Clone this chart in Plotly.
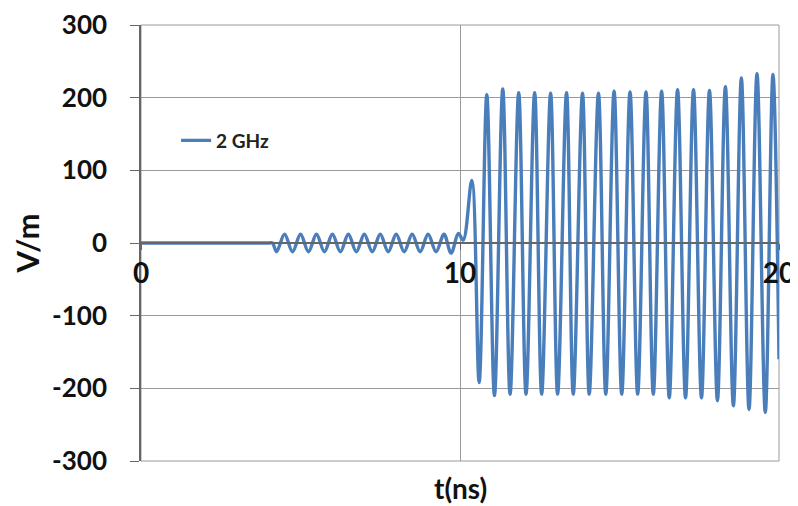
import plotly.graph_objects as go

# Extremum points of the 2 GHz field trace (t in ns, field in V/m)
t_ns = [0.0, 4.0, 4.12, 4.25, 4.5, 4.75, 5.0, 5.25, 5.5, 5.75, 6.0, 6.25, 6.5, 6.75, 7.0,
        7.25, 7.5, 7.75, 8.0, 8.25, 8.5, 8.75, 9.0, 9.25, 9.5, 9.72, 9.95, 10.1, 10.37,
        10.6, 10.84, 11.08, 11.34, 11.57, 11.84, 12.07, 12.34, 12.56, 12.84, 13.06, 13.34,
        13.55, 13.84, 14.05, 14.34, 14.57, 14.83, 15.07, 15.33, 15.57, 15.83, 16.06, 16.32,
        16.56, 16.82, 17.07, 17.32, 17.57, 17.82, 18.07, 18.32, 18.57, 18.82, 19.06, 19.31,
        19.57, 19.81, 20.0]
field = [0, 0, 0, -12, 12, -12, 12, -12, 12, -12, 12, -12, 12, -12, 12,
         -12, 12, -12, 12, -12, 12, -12, 12, -12, 12, -14, 13, 4, 86,
         -192, 204, -210, 212, -208, 207, -208, 207, -208, 206, -208, 207,
         -208, 206, -208, 206, -208, 209, -208, 208, -208, 208, -208, 209,
         -213, 211, -213, 211, -213, 210, -217, 215, -224, 227, -229, 233,
         -233, 232, -160]

series_name = "2 GHz"
x_ticks = [0, 10, 20]
y_ticks = [-300, -200, -100, 0, 100, 200, 300]

FONT = "Lato"
GRID = "#9a9a9a"
fig = go.Figure()
fig.add_trace(go.Scatter(
    x=t_ns, y=field, mode="lines", name=series_name,
    line=dict(color="#4a7ebb", width=3.4, shape="spline", smoothing=1.0),
))

# page body adds an 8px offset, so the figure is 8px smaller than the window
fig.update_layout(
    width=790, height=498,
    margin=dict(l=133, r=19, t=17, b=45),
    paper_bgcolor="white", plot_bgcolor="white",
    showlegend=True,
    legend=dict(x=0.055, y=0.735, xanchor="left", yanchor="middle",
                bgcolor="rgba(0,0,0,0)", itemwidth=30,
                font=dict(family=FONT, size=19, color="#222", weight="bold")),
    font=dict(family=FONT, color="#111"),
)

fig.update_xaxes(
    range=[0, 20], tickvals=x_ticks, ticktext=[str(v) for v in x_ticks],
    anchor="free", position=0.5, automargin=False, ticklabeloverflow="allow",
    showgrid=True, gridcolor=GRID, gridwidth=1,
    showline=True, linecolor="#666", linewidth=1.5,
    ticks="outside", ticklen=6, tickcolor="#666",
    zeroline=False,
    tickfont=dict(family=FONT, size=28, color="#111", weight="bold"),
)
fig.update_yaxes(
    range=[-300, 300], tickvals=y_ticks, ticktext=[str(v) for v in y_ticks],
    automargin=False, ticklabeloverflow="allow",
    showgrid=True, gridcolor=GRID, gridwidth=1,
    showline=True, linecolor="#666", linewidth=1.5,
    ticks="outside", ticklen=9, tickcolor="#666",
    ticklabelstandoff=18,
    zeroline=False,
    tickfont=dict(family=FONT, size=26, color="#111", weight="bold"),
    title=dict(text="V/m", standoff=14,
               font=dict(family=FONT, size=31, color="#111", weight="bold")),
)

# plot-area frame (top, right, bottom edges drawn like gridlines)
fig.add_shape(type="rect", xref="paper", yref="paper", x0=0, x1=1, y0=0, y1=1,
              line=dict(color=GRID, width=1), layer="below")

fig.add_annotation(
    text="t(ns)", xref="paper", yref="paper", x=0.5, y=0, yshift=-27,
    xanchor="center", yanchor="middle", showarrow=False,
    font=dict(family=FONT, size=28, color="#111", weight="bold"),
)

fig.write_html("out.html")
